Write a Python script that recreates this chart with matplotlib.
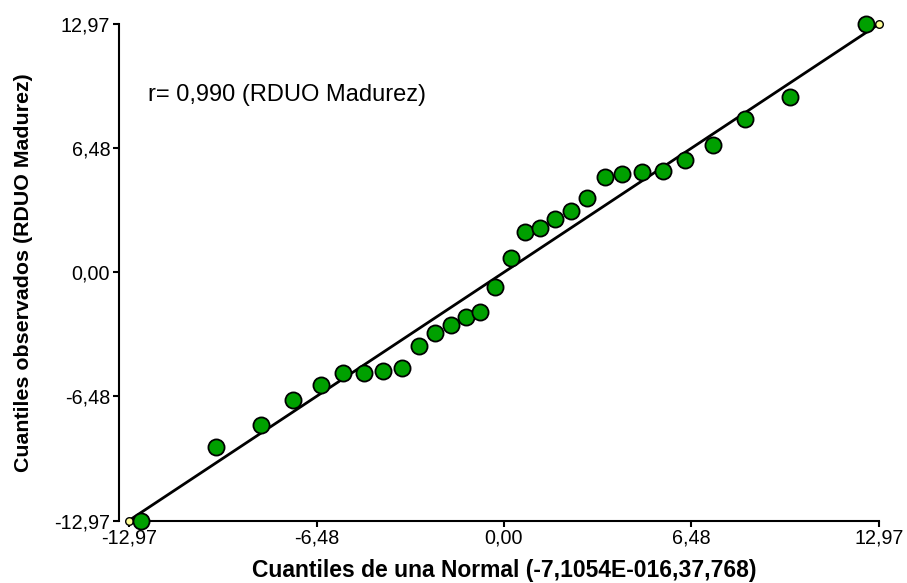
import matplotlib
matplotlib.use("Agg")
import matplotlib.pyplot as plt

plt.rcParams["font.family"] = ["Liberation Sans", "DejaVu Sans"]

LIM = 12.97
TICKS = [-12.97, -6.48, 0.00, 6.48, 12.97]
TICK_LABELS = ["-12,97", "-6,48", "0,00", "6,48", "12,97"]

# normal quantiles (x) vs observed quantiles (y)
q_normal = [-12.56, -9.96, -8.41, -7.30, -6.33, -5.57, -4.84, -4.19, -3.53, -2.94,
            -2.39, -1.83, -1.31, -0.83, -0.31, 0.24, 0.73, 1.25, 1.76, 2.32,
            2.87, 3.49, 4.08, 4.77, 5.50, 6.26, 7.23, 8.34, 9.89, 12.52]
q_obs = [-12.97, -9.15, -8.00, -6.69, -5.91, -5.28, -5.28, -5.18, -5.02, -3.87,
         -3.19, -2.77, -2.35, -2.09, -0.78, 0.73, 2.09, 2.30, 2.77, 3.19,
         3.87, 4.97, 5.13, 5.23, 5.28, 5.86, 6.64, 8.00, 9.15, 12.97]

ref_x = [-12.97, 12.97]
ref_y = [-12.97, 12.97]

fig = plt.figure(figsize=(9.07, 5.83), dpi=100)
ax = fig.add_axes([0.1422, 0.1072, 0.8269, 0.8516])

ax.plot(ref_x, ref_y, color="black", lw=2.0, zorder=2, clip_on=False)
ax.scatter(ref_x, ref_y, s=30, color="#ffff99", edgecolors="black",
           linewidths=1.0, zorder=3, clip_on=False)
ax.scatter(q_normal, q_obs, s=135, color="#00a000", edgecolors="black",
           linewidths=1.3, zorder=4, clip_on=False)

ax.set_xlim(-LIM, LIM)
ax.set_ylim(-LIM, LIM)
ax.set_xticks(TICKS)
ax.set_xticklabels(TICK_LABELS)
ax.set_yticks(TICKS)
ax.set_yticklabels(TICK_LABELS)

for side in ["top", "right"]:
    ax.spines[side].set_visible(False)
ax.spines["left"].set_position(("outward", 7.5))
ax.spines["left"].set_linewidth(1.5)
ax.spines["bottom"].set_linewidth(1.5)
ax.tick_params(axis="both", length=4, width=1.5, labelsize=14.2, pad=2)

ax.set_xlabel("Cuantiles de una Normal (-7,1054E-016,37,768)",
              fontsize=16.5, fontweight="bold", labelpad=8)
ax.set_ylabel("Cuantiles observados (RDUO Madurez)",
              fontsize=15.4, fontweight="bold", labelpad=15)

ax.text(-12.31, 9.27, "r= 0,990 (RDUO Madurez)", fontsize=17, va="center", ha="left")

fig.savefig("out.png", dpi=100)
